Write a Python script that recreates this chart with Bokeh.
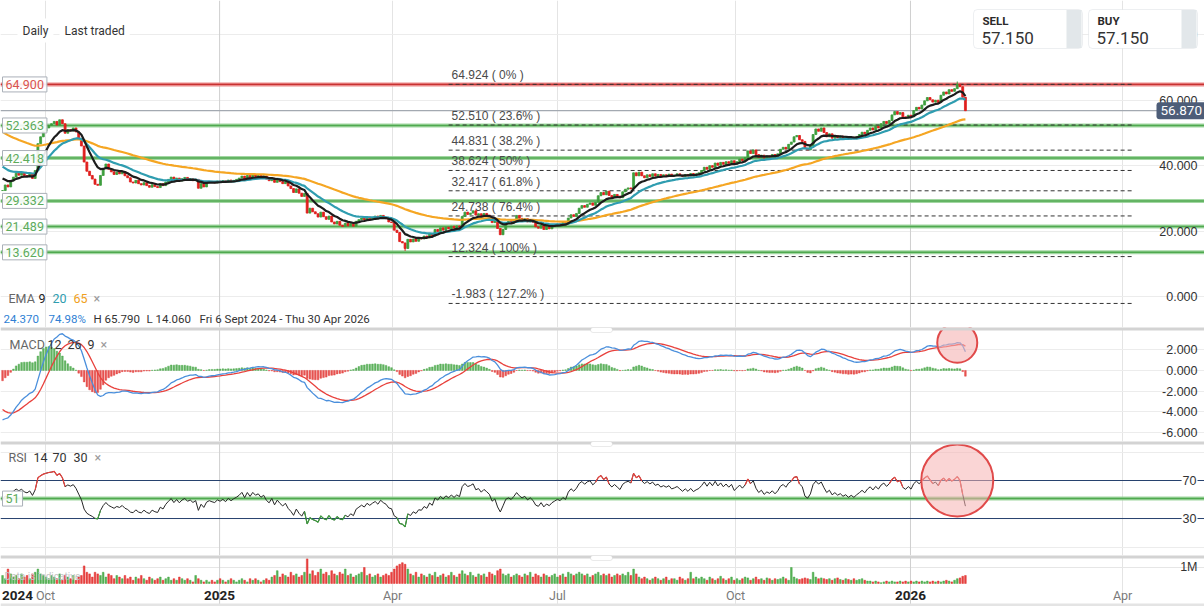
import numpy as np
from bokeh.plotting import figure
from bokeh.layouts import column
from bokeh.models import (Range1d, Span, Label, BoxAnnotation, FixedTicker, ColumnDataSource)
from bokeh.embed import file_html
from bokeh.resources import INLINE
from bokeh.core.properties import value

# ---------------- data ----------------
closes = [
    32.5, 34.2, 33.6, 35.4, 36.6, 37.8, 37.2, 38.0, 37.1, 36.8, 37.6, 36.2, 38.6,
    46.8, 48.9, 50.6, 51.6, 52.4, 52.9, 53.6, 52.5, 54.1, 52.9, 50.0, 51.1, 50.7, 51.6, 50.4, 48.4, 46.1,
    41.2, 38.4, 37.1, 36.0, 34.4, 34.1, 37.1, 39.2, 40.6, 39.0, 38.2, 37.4, 38.1, 37.6, 38.3,
    37.0, 36.4, 35.1, 34.8, 35.6, 34.6, 34.2, 34.9, 34.0, 33.5, 34.3, 33.7, 33.4, 34.6, 34.0,
    35.1, 35.9, 36.6, 35.5, 36.3, 35.4, 36.1, 36.5, 35.8, 36.1, 35.5, 35.9, 33.2, 34.6, 33.6, 34.9,
    35.3, 35.0, 34.8, 35.4, 35.1, 35.5, 35.0, 35.7, 35.2, 35.6, 35.9, 36.3, 36.9, 36.0, 37.1, 36.4, 37.3, 36.8, 37.1, 36.5, 36.9,
    36.0, 35.5, 36.3, 35.0, 35.9, 35.2, 34.6, 35.1, 33.9, 33.1, 31.9, 33.0, 31.7, 30.7, 31.6,
    25.6, 27.1, 26.0, 25.4, 24.4, 25.9, 24.5, 23.7, 24.7, 22.9, 22.3, 23.1, 21.9, 21.5, 22.5, 21.7, 22.4, 21.6, 23.1,
    23.6, 24.1, 23.5, 24.4, 23.8, 24.3, 24.7, 24.0, 24.9, 24.3, 23.9, 22.9, 22.7, 20.4, 19.7, 16.9, 16.5, 14.8,
    17.6, 16.8, 17.7, 17.0, 17.9, 17.7, 18.6, 18.0, 19.3, 18.6, 20.6, 20.0, 21.1, 20.4, 21.3, 20.8, 21.6, 21.0, 21.7, 21.3,
    24.6, 25.9, 25.2, 25.6, 26.3, 25.0, 25.4, 24.6, 25.5, 25.0, 24.4, 22.7, 23.3, 20.9, 19.0, 20.6, 22.6, 23.1, 22.6, 23.6,
    24.9, 24.0, 23.4, 23.9, 22.9, 23.5, 22.8, 21.4, 21.0, 21.9, 20.6, 21.3, 20.8, 21.5, 21.9, 22.3, 22.0, 22.7, 22.3, 24.1, 25.1, 24.6, 25.5,
    27.1, 27.9, 27.4, 28.3, 28.7, 28.0, 28.9, 30.9, 31.9, 31.2, 32.3, 31.0, 30.4, 31.3, 30.8, 30.3, 32.1, 32.9, 33.3, 33.0, 37.9, 37.0, 38.1,
    37.0, 36.4, 37.3, 36.8, 37.6, 36.9, 37.4, 36.8, 37.3, 37.0, 37.5, 36.9, 37.2, 37.6, 37.2, 36.8, 37.4, 37.0, 37.7, 37.2, 37.6, 37.9,
    38.6, 39.6, 39.0, 40.1, 39.6, 40.9, 40.2, 41.1, 40.5, 41.3, 40.8, 41.6, 40.6, 41.3, 42.1, 41.6, 42.5,
    44.6, 43.8, 44.9, 43.5, 42.6, 43.3, 42.4, 43.1, 42.8, 43.5, 42.9, 43.7, 45.1, 45.7, 45.2, 46.6, 47.3, 48.9, 49.3, 48.0, 47.5, 45.4, 44.9, 46.1,
    49.6, 51.3, 50.6, 51.6, 50.2, 48.9, 49.8, 48.5, 49.3, 48.6, 49.1, 48.4, 48.9, 48.2, 48.8, 48.3, 49.0, 49.6, 50.3, 49.8, 50.9,
    51.6, 51.0, 52.1, 51.6, 52.9, 53.6, 53.0, 53.9, 55.6, 56.6, 55.8, 56.3, 55.0, 54.6, 55.5, 55.0, 56.9, 57.9, 57.4, 58.6,
    59.9, 60.9, 60.2, 59.5, 60.1, 59.4, 61.6, 62.6, 62.0, 63.3, 62.8, 63.6, 64.9, 64.2, 61.0, 56.87,
]
volumes_m = [
    0.5, 0.3, 0.9, 0.6, 0.4, 0.5, 0.3, 0.6, 0.4, 0.5, 0.3, 0.6, 0.7,
    0.9, 0.6, 0.5, 0.4, 0.3, 0.5, 0.4, 0.3, 0.6, 0.2, 0.5, 0.4, 0.3, 0.5, 0.2, 0.4, 0.5,
    1.1, 0.7, 0.6, 0.4, 0.7, 0.6, 0.5, 0.7, 0.4, 0.6, 0.5, 0.3, 0.5, 0.4, 0.3,
    0.5, 0.3, 0.4, 0.2, 0.4, 0.3, 0.5, 0.3, 0.2, 0.4, 0.3, 0.2, 0.3, 0.4, 0.2,
    0.3, 0.4, 0.2, 0.3, 0.2, 0.4, 0.3, 0.2, 0.3, 0.2, 0.1, 0.5, 0.3, 0.2, 0.1, 0.2,
    0.1, 0.2, 0.1, 0.2, 0.3, 0.2, 0.1, 0.2, 0.3, 0.2, 0.1, 0.2, 0.3, 0.2, 0.1, 0.3, 0.2, 0.3, 0.2, 0.1, 0.2,
    0.3, 0.2, 0.4, 0.5, 0.8, 0.4, 0.6, 0.5, 0.4, 0.7, 0.5, 0.6, 0.4, 0.5, 0.7,
    1.55, 0.6, 0.8, 0.5, 0.7, 0.9, 0.6, 0.7, 0.5, 0.8, 0.6, 0.5, 0.7, 0.6, 0.9, 0.5, 0.6, 0.4, 0.5,
    0.6, 0.7, 1.0, 0.5, 0.6, 0.4, 0.5, 0.6, 0.4, 0.5, 0.6, 0.5, 0.7, 0.9, 1.1, 1.2, 1.3, 1.2,
    0.9, 0.6, 0.5, 0.7, 0.4, 0.6, 0.5, 0.4, 0.6, 0.5, 0.7, 0.4, 0.5, 0.6, 0.4, 0.5, 0.7, 0.5, 0.4, 0.6,
    0.8, 0.6, 0.5, 0.7, 0.5, 0.4, 0.6, 0.5, 0.6, 0.4, 0.7, 0.6, 0.5, 0.8, 0.9, 0.6, 0.5, 0.6, 0.4, 0.5,
    0.6, 0.5, 0.4, 0.6, 0.5, 0.7, 0.4, 0.6, 0.5, 0.4, 0.6, 0.5, 0.4, 0.5, 0.6, 0.4, 0.5, 0.6, 0.4, 0.7, 0.6, 0.5, 0.6,
    0.7, 0.6, 0.5, 0.6, 0.4, 0.5, 0.6, 0.7, 0.5, 0.6, 0.5, 0.6, 0.4, 0.5, 0.6, 0.5, 0.6, 0.5, 0.7, 0.5, 0.9, 0.6, 0.4,
    0.3, 0.4, 0.3, 0.2, 0.3, 0.4, 0.3, 0.2, 0.3, 0.4, 0.2, 0.3, 0.3, 0.2, 0.4, 0.3, 0.2, 0.3, 0.7, 0.3, 0.4, 0.3,
    0.4, 0.3, 0.2, 0.4, 0.3, 0.2, 0.3, 0.45, 0.3, 0.2, 0.3, 0.4, 0.2, 0.3, 0.2, 0.3, 0.4,
    0.35, 0.2, 0.3, 0.4, 0.25, 0.3, 0.2, 0.35, 0.3, 0.2, 0.3, 0.25, 0.3, 0.4, 0.3, 0.2, 1.0, 0.4, 0.3, 0.25, 0.3, 0.35, 0.3, 0.25,
    0.7, 0.4, 0.3, 0.35, 0.3, 0.25, 0.3, 0.2, 0.3, 0.35, 0.25, 0.2, 0.3, 0.25, 0.2, 0.3, 0.2, 0.25, 0.3, 0.2, 0.15,
    0.15, 0.1, 0.15, 0.1, 0.05, 0.1, 0.15, 0.1, 0.15, 0.1, 0.1, 0.15, 0.1, 0.15, 0.1, 0.15, 0.1, 0.15, 0.1, 0.15,
    0.1, 0.15, 0.1, 0.15, 0.1, 0.15, 0.1, 0.15, 0.2, 0.15, 0.1, 0.2, 0.3, 0.35, 0.45, 0.5,
]
period_high = 65.790
period_low = 14.060
period_text = "Fri 6 Sept 2024 - Thu 30 Apr 2026"

ema_periods = [9, 20, 65]
ema_start = [36.2, 39.8, 50.4]          # EMA values at the first bar
ema_colors = ["#1c1c1c", "#2f9db0", "#f5a623"]
macd_fast, macd_slow, macd_sig = 12, 26, 9
macd_fast_start, macd_slow_start, signal_start = 37.3, 42.1, -3.8
rsi_period = 14
rsi_gain_start, rsi_loss_start = 0.8, 0.8
rsi_upper, rsi_lower, rsi_alert = 70, 30, 51

red_level = 64.900
last_price = 56.870
quote_sell = 57.150
quote_buy = 57.150
green_levels = [52.363, 42.418, 29.332, 21.489, 13.620]
fib_levels = [64.924, 52.510, 44.831, 38.624, 32.417, 24.738, 12.324, -1.983]
fib_pcts = ["0%", "23.6%", "38.2%", "50%", "61.8%", "76.4%", "100%", "127.2%"]
fib_start_bar, fib_end_bar = 164, 415.5

date_tick_bars = [5.5, 15.8, 79.8, 143.4, 204.0, 269.5, 333.8, 411.8]
date_tick_labels = ["2024", "Oct", "2025", "Apr", "Jul", "Oct", "2026", "Apr"]
price_ticks = [0, 20, 40, 60, 80]
macd_ticks = [-6, -4, -2, 0, 2]
rsi_ticks = [30, 70]
rsi_grid = [0, 100]
volume_ticks = [1]
volume_tick_labels = ["1M"]

# ---------------- derived series ----------------
c = np.array(closes, dtype=float)
n = len(c)
idx = np.arange(n)
o = np.concatenate([[c[0]], c[:-1]])
hi = np.maximum(o, c)
lo = np.minimum(o, c)
hi[int(np.argmax(c))] = period_high
lo[int(np.argmin(c))] = period_low
UP, DOWN = "#3e9e3e", "#e0201e"
col = np.where(c >= o, UP, DOWN)


def ema(vals, period, start):
    a = 2.0 / (period + 1)
    out = np.empty(len(vals))
    e = start
    for i, v in enumerate(vals):
        if i > 0:
            e = e + a * (v - e)
        out[i] = e
    return out


emas = [ema(c, p_, s_) for p_, s_ in zip(ema_periods, ema_start)]
macd = ema(c, macd_fast, macd_fast_start) - ema(c, macd_slow, macd_slow_start)
signal = ema(macd, macd_sig, signal_start)
hist = macd - signal

rsi = np.empty(n)
ag, al = rsi_gain_start, rsi_loss_start
rsi[0] = 100 - 100 / (1 + ag / al)
for i in range(1, n):
    d = c[i] - c[i - 1]
    ag = (ag * (rsi_period - 1) + max(d, 0)) / rsi_period
    al = (al * (rsi_period - 1) + max(-d, 0)) / rsi_period
    rsi[i] = 100 - 100 / (1 + ag / al)

change = c[-1] - c[0]
change_pct = change / c[0] * 100

# ---------------- layout ----------------
W = 1204
PX_PER_BAR = 2.72
H_PRICE, H_MACD, H_RSI, H_VOL = 327, 114, 114, 51
xr = Range1d(-0.75, -0.75 + W / PX_PER_BAR)
FONT = "Roboto"
AXFONT = "Liberation Sans"
LABEL_X = W - 7
year_bars = [t for t, l in zip(date_tick_bars[1:], date_tick_labels[1:]) if l.isdigit()]
month_bars = [t for t, l in zip(date_tick_bars[1:], date_tick_labels[1:]) if not l.isdigit()]


def make_fig(h, yr):
    p = figure(width=W, height=h, x_range=xr, y_range=yr, toolbar_location=None,
               output_backend="svg", x_axis_location=None, y_axis_location=None,
               min_border_left=0, min_border_top=0, min_border_bottom=0, min_border_right=0)
    p.outline_line_color = None
    p.background_fill_color = "white"
    p.border_fill_color = "white"
    p.xgrid.ticker = FixedTicker(ticks=month_bars)
    p.xgrid.grid_line_color = "#e4e4e4"
    p.ygrid.grid_line_color = "#ececec"
    for t in year_bars:
        p.add_layout(Span(location=t, dimension="height", line_color="#cfcfcf",
                          line_width=1, level="underlay"))
    return p


def ty(y_from_top, h):
    return h - y_from_top


def slabel(p, text, x, y, size="12px", color="#333333", style="normal", align="left",
           baseline="middle", font=FONT, **kw):
    p.add_layout(Label(x=x, y=y, x_units="screen", y_units="screen", text=text,
                       text_font_size=size, text_color=color, text_font_style=style,
                       text_align=align, text_baseline=baseline, text_font=font, **kw))


def y_tick_labels(p, ticks, texts, **kw):
    for t, s in zip(ticks, texts):
        p.add_layout(Label(x=LABEL_X, y=t, x_units="screen", y_units="data", text=s,
                           text_align="right", text_baseline="middle",
                           text_font_size="12.5px", text_color="#333333",
                           text_font=AXFONT, **kw))


def separator(p, yr, px_per_unit):
    p.add_layout(Span(location=yr.end, dimension="width", line_color="#d3d3d3", line_width=6))
    p.add_layout(BoxAnnotation(left=590, right=612, left_units="screen", right_units="screen",
                               top=yr.end, bottom=yr.end - 5.0 / px_per_unit,
                               fill_color="white", fill_alpha=1, line_color="#b8b8b8",
                               border_radius=3))


def level_tag(p, text, y, color):
    p.add_layout(Label(x=2, y=y, x_units="screen", y_units="data", text=text,
                       text_font_size="12.5px", text_color=color, text_font=FONT,
                       text_baseline="middle", background_fill_color="white",
                       background_fill_alpha=0.9, border_line_color="#aab0b8",
                       border_line_width=1, padding=3))


# ================= price panel =================
yr_p = Range1d(-9.33, 90.53)
p1 = make_fig(H_PRICE, yr_p)
p1.ygrid.ticker = FixedTicker(ticks=price_ticks)

for lv in green_levels:
    p1.add_layout(Span(location=lv, dimension="width", line_color="#92d092", line_width=4,
                       line_alpha=0.85, level="underlay"))
    p1.add_layout(Span(location=lv, dimension="width", line_color="#4fa94f", line_width=1.5,
                       level="underlay"))
p1.add_layout(Span(location=red_level, dimension="width", line_color="#eb8a8a", line_width=4,
                   level="underlay"))
p1.add_layout(Span(location=red_level, dimension="width", line_color="#c83232", line_width=1.3,
                   level="underlay"))
p1.add_layout(Span(location=last_price, dimension="width", line_color="#a3a9b1", line_width=1.2,
                   level="underlay"))

fib_src = ColumnDataSource(dict(
    y=fib_levels, x0=[fib_start_bar] * len(fib_levels), x1=[fib_end_bar] * len(fib_levels),
    txt=["%.3f ( %s )" % (lv, pc) for lv, pc in zip(fib_levels, fib_pcts)]))
p1.segment(x0="x0", x1="x1", y0="y", y1="y", source=fib_src, line_color="#333333",
           line_width=1, line_dash="4 3")
p1.text(x="x0", y="y", text="txt", source=fib_src, x_offset=3, y_offset=-2,
        text_baseline="bottom", text_font_size="12px", text_color="#4a4a4a",
        text_font=value(AXFONT))

src = ColumnDataSource(dict(x=idx, hi=hi, lo=lo, top=np.maximum(o, c), bot=np.minimum(o, c),
                            col=col))
p1.segment(x0="x", x1="x", y0="lo", y1="hi", line_color="col", line_width=1, source=src)
p1.vbar(x="x", width=0.72, top="top", bottom="bot", fill_color="col", line_color="col",
        line_width=0.8, source=src)
for e_, cl in zip(emas[::-1], ema_colors[::-1]):
    p1.line(idx, e_, line_color=cl, line_width=2.2)

level_tag(p1, "%.3f" % red_level, red_level, "#d9534f")
for lv in green_levels:
    level_tag(p1, "%.3f" % lv, lv, "#5cab5c")

y_tick_labels(p1, price_ticks, ["%.3f" % t for t in price_ticks])

# current price badge
p1.add_layout(Label(x=W - 48, y=last_price, x_units="screen", y_units="data",
                    text="%.3f" % last_price, text_font_size="13.5px", text_color="white",
                    text_font=FONT, text_baseline="middle", background_fill_color="#4d5d78",
                    border_radius=3, padding=4))

# header
slabel(p1, "Daily", 17, ty(30, H_PRICE), background_fill_color="white", padding=5)
slabel(p1, "Last traded", 59, ty(30, H_PRICE), background_fill_color="white", padding=5)

for bx, lab, q in [(W - 231, "SELL", quote_sell), (W - 116, "BUY", quote_buy)]:
    p1.add_layout(BoxAnnotation(left=bx, right=bx + 109, top=ty(9, H_PRICE),
                                bottom=ty(48, H_PRICE),
                                left_units="screen", right_units="screen",
                                top_units="screen", bottom_units="screen",
                                fill_color="white", fill_alpha=1, line_color="#c5cad0",
                                line_width=1, border_radius=4))
    p1.add_layout(BoxAnnotation(left=bx + 93, right=bx + 108, top=ty(9.5, H_PRICE),
                                bottom=ty(47.5, H_PRICE),
                                left_units="screen", right_units="screen",
                                top_units="screen", bottom_units="screen",
                                fill_color="#e2e7ea", fill_alpha=1, line_color=None))
    slabel(p1, lab, bx + 9, ty(20, H_PRICE), size="11.5px", color="#2a2a2a", style="bold")
    slabel(p1, "%.3f" % q, bx + 8, ty(37, H_PRICE), size="17px", color="#333333")

# EMA legend + info row
for t, x, cl in [("EMA", 8, "#666666"), ("9", 38, "#222222"), ("20", 52, "#2f9db0"),
                 ("65", 73, "#f0a020"), ("\u00d7", 93, "#9a9a9a")]:
    slabel(p1, t, x, ty(298, H_PRICE), size="12.5px", color=cl)
for t, x, cl in [("%.3f" % change, 3, "#2f7fd4"), ("%.2f%%" % change_pct, 48, "#2f7fd4"),
                 ("H %.3f" % period_high, 93, "#333333"), ("L %.3f" % period_low, 146, "#333333"),
                 (period_text, 199, "#333333")]:
    slabel(p1, t, x, ty(318, H_PRICE), size="11.5px", color=cl)

# ================= MACD panel =================
yr_m = Range1d(-6.9, 4.17)
p2 = make_fig(H_MACD, yr_m)
p2.ygrid.ticker = FixedTicker(ticks=macd_ticks)
hcol = np.where(hist >= 0, "#49a849", "#e33a37")
p2.vbar(x=idx, top=hist, bottom=0, width=0.62, fill_color=hcol, line_color=hcol,
        line_width=0.5, fill_alpha=0.85, line_alpha=0.85)
p2.line(idx, signal, line_color="#e8413c", line_width=1.3)
p2.line(idx, macd, line_color="#4a8fdc", line_width=1.3)
hb = n - 4
p2.scatter(x=[idx[hb]], y=[macd[hb]], size=40, marker="circle", fill_color="#f5b3b3",
           fill_alpha=0.6, line_color="#e04a4a", line_width=2)
y_tick_labels(p2, macd_ticks, ["%.3f" % t for t in macd_ticks])
for t, x, cl in [("MACD", 9, "#666666"), ("12", 47, "#333333"), ("26", 67, "#333333"),
                 ("9", 87, "#333333"), ("\u00d7", 100, "#9a9a9a")]:
    slabel(p2, t, x, ty(17, H_MACD), size="12.5px", color=cl)
separator(p2, yr_m, H_MACD / (yr_m.end - yr_m.start))

# ================= RSI panel =================
yr_r = Range1d(-8.9, 111.05)
p3 = make_fig(H_RSI, yr_r)
p3.ygrid.ticker = FixedTicker(ticks=rsi_grid)
p3.add_layout(Span(location=rsi_alert, dimension="width", line_color="#92d092", line_width=4,
                   line_alpha=0.85, level="underlay"))
p3.add_layout(Span(location=rsi_alert, dimension="width", line_color="#4fa94f", line_width=1.5,
                   level="underlay"))
for lv in (rsi_upper, rsi_lower):
    p3.add_layout(Span(location=lv, dimension="width", line_color="#27426e", line_width=1,
                       level="underlay"))
p3.line(idx, rsi, line_color="#262626", line_width=1)
over = rsi > rsi_upper
under = rsi < rsi_lower
ov = over | np.r_[over[1:], False] | np.r_[False, over[:-1]]
un = under | np.r_[under[1:], False] | np.r_[False, under[:-1]]
p3.line(idx, np.where(ov, rsi, np.nan), line_color="#e8413c", line_width=1.2)
p3.line(idx, np.where(un, rsi, np.nan), line_color="#3e9e3e", line_width=1.2)
p3.scatter(x=[idx[hb]], y=[rsi[hb] - 4], size=72, marker="circle", fill_color="#f5b3b3",
           fill_alpha=0.55, line_color="#e04a4a", line_width=2)
level_tag(p3, "%d" % rsi_alert, rsi_alert, "#5cab5c")
y_tick_labels(p3, rsi_ticks, ["%d" % t for t in rsi_ticks],
              background_fill_color="white", padding=1)
for t, x, cl in [("RSI", 8, "#666666"), ("14", 33, "#333333"), ("70", 52, "#333333"),
                 ("30", 73, "#333333"), ("\u00d7", 94, "#9a9a9a")]:
    slabel(p3, t, x, ty(16, H_RSI), size="12.5px", color=cl)
separator(p3, yr_r, H_RSI / (yr_r.end - yr_r.start))

# ================= volume panel (with date labels) =================
yr_v = Range1d(-1.44, 1.75)
p4 = make_fig(H_VOL, yr_v)
p4.ygrid.ticker = FixedTicker(ticks=volume_ticks)
p4.ygrid.grid_line_color = "#e6e6e6"
v = np.array(volumes_m, dtype=float)
nv = min(len(v), n)
vcol = np.where(c[:nv] >= o[:nv], "#45a845", "#e3302e")
p4.vbar(x=idx[:nv], top=v[:nv], bottom=0, width=0.62, fill_color=vcol, line_color=vcol,
        line_width=0.5, fill_alpha=0.9)
y_tick_labels(p4, volume_ticks, volume_tick_labels)
for t, l in zip(date_tick_bars, date_tick_labels):
    yr_ = l.isdigit()
    p4.add_layout(Label(x=t, y=ty(40, H_VOL), x_units="data", y_units="screen", text=l,
                        text_font_size="13.5px" if yr_ else "12.5px",
                        text_color="#222222" if yr_ else "#7a7a7a",
                        text_font_style="bold" if yr_ else "normal", text_font=FONT,
                        text_align="center", text_baseline="middle"))
slabel(p4, "Data is indicative", 4, ty(21, H_VOL), size="10px", color="#c4c4c4")
p4.add_layout(BoxAnnotation(left=0, right=W, bottom=0, top=3, left_units="screen",
                            right_units="screen", top_units="screen", bottom_units="screen",
                            fill_color="#e4e4e4", fill_alpha=1, line_color=None))
separator(p4, yr_v, H_VOL / (yr_v.end - yr_v.start))

layout = column(p1, p2, p3, p4, spacing=0)
open("out.html", "w").write(file_html(layout, INLINE, title="Chart"))
